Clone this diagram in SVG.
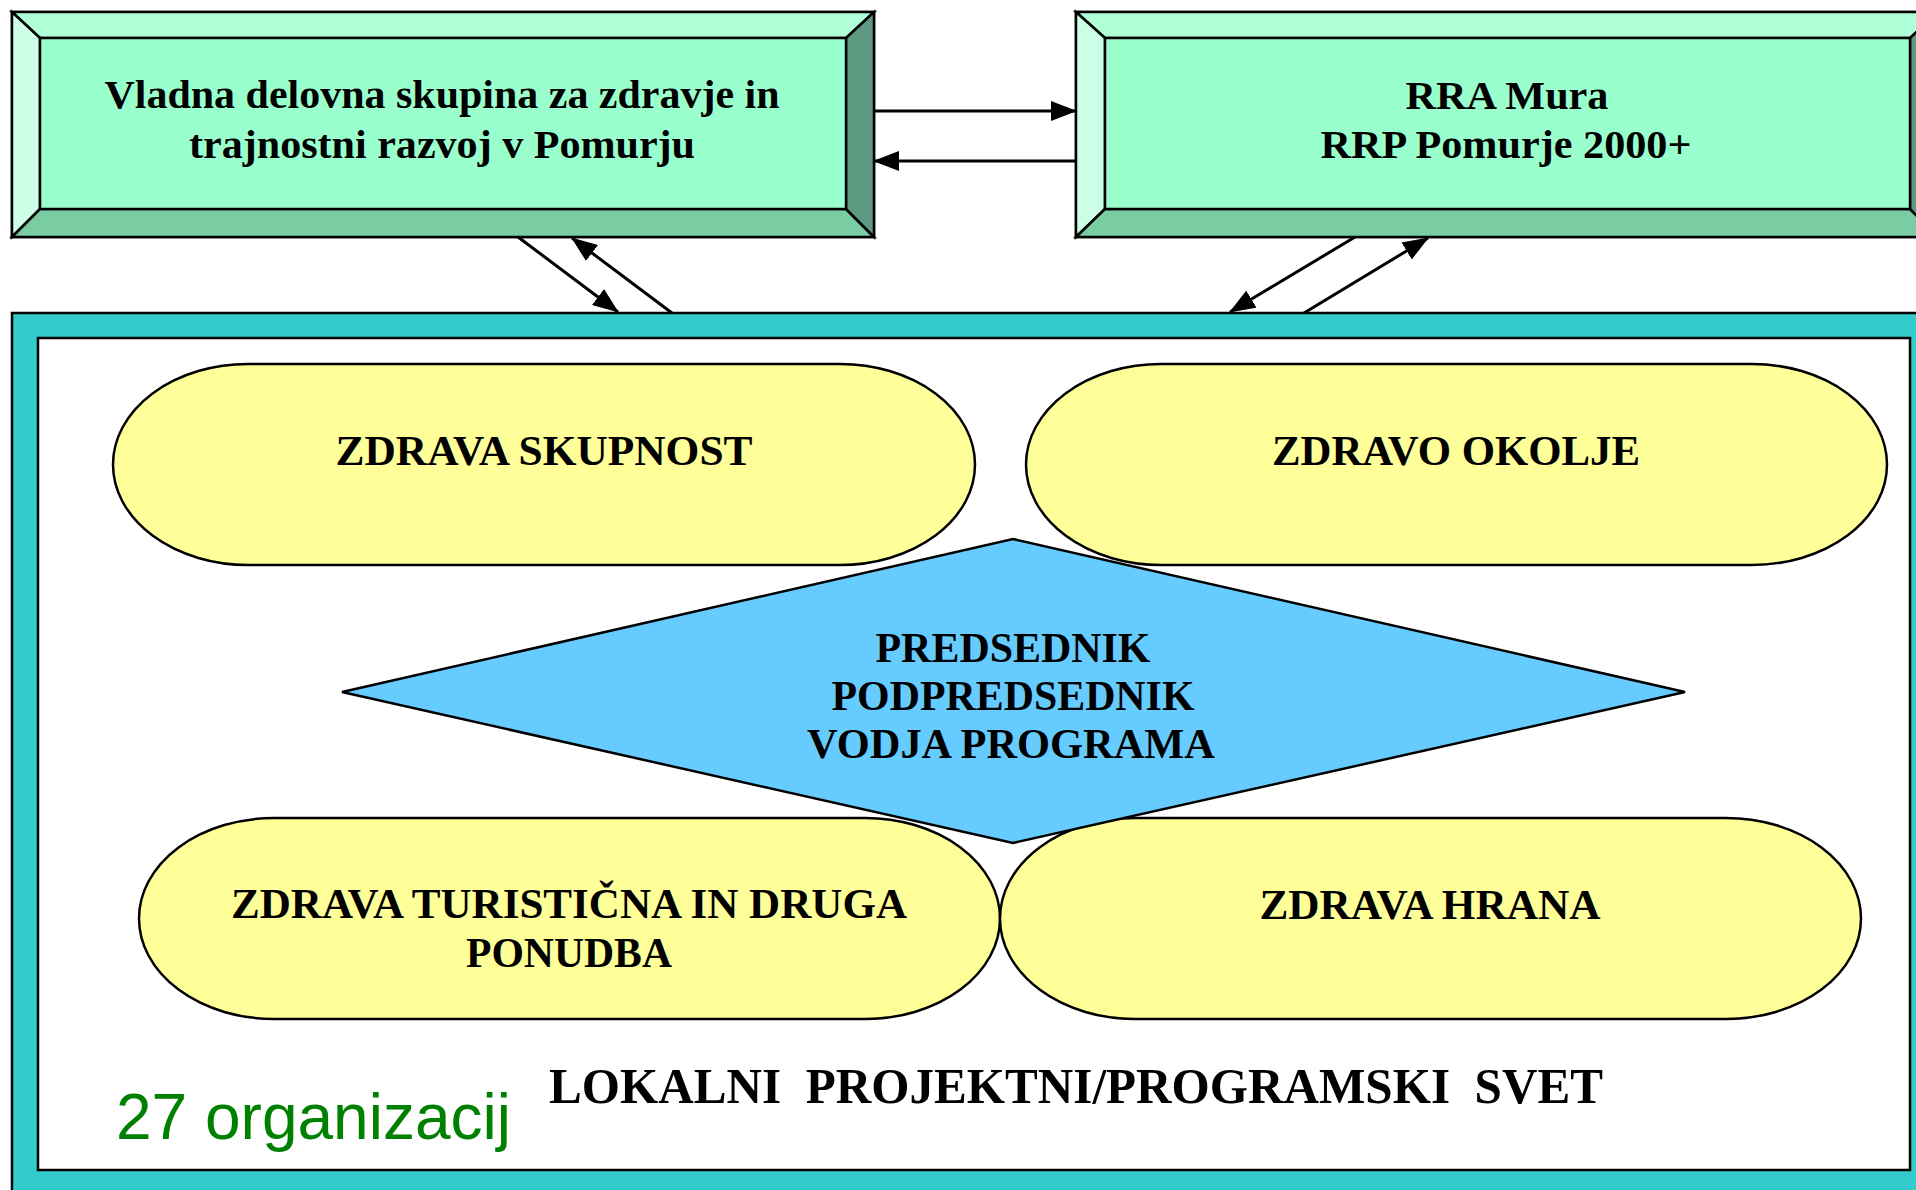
<svg xmlns="http://www.w3.org/2000/svg" width="1916" height="1190" viewBox="0 0 1916 1190">
<defs>
<marker id="ah" markerUnits="userSpaceOnUse" markerWidth="26" markerHeight="20" refX="25" refY="10" orient="auto">
<path d="M0,0 L26,10 L0,20 z" fill="#000"/>
</marker>
<style>
.st{stroke:#000;stroke-width:2.5;stroke-linejoin:miter}
.bc{fill:#99FFCC}
.bt{fill:#AFFFD7}
.bl{fill:#CCFFE6}
.bb{fill:#7ACCA3}
.br{fill:#5C9980}
.el{fill:#FFFF99;stroke:#000;stroke-width:2.5}
.t{font-family:"Liberation Serif","Times New Roman",serif;font-weight:bold;fill:#000;text-anchor:middle}
.c{stroke:#000;stroke-width:3;fill:none;marker-end:url(#ah)}
</style>
</defs>
<rect width="1916" height="1190" fill="#fff"/>

<g id="frame">
<rect x="12" y="313" width="1930" height="890" fill="#33CCCC" class="st"/>
<rect x="38" y="338" width="1872" height="832" fill="#fff" class="st"/>
<text x="116" y="1139" font-family="'Liberation Sans',Arial,sans-serif" font-size="64" fill="#008000">27 organizacij</text>
<text x="1076" y="1103" class="t" font-size="50" textLength="1054" lengthAdjust="spacingAndGlyphs" xml:space="preserve">LOKALNI  PROJEKTNI/PROGRAMSKI  SVET</text>
</g>

<g id="vladna">
<rect x="12" y="12" width="862" height="225" class="bc st"/>
<polygon points="12,12 874,12 846,38 40,38" class="bt st"/>
<polygon points="12,12 40,38 40,209 12,237" class="bl st"/>
<polygon points="12,237 40,209 846,209 874,237" class="bb st"/>
<polygon points="874,12 874,237 846,209 846,38" class="br st"/>
<rect x="40" y="38" width="806" height="171" class="bc st"/>
<text x="442" y="108" class="t" font-size="41" textLength="675" lengthAdjust="spacingAndGlyphs">Vladna delovna skupina za zdravje in</text>
<text x="442" y="158" class="t" font-size="41" textLength="506" lengthAdjust="spacingAndGlyphs">trajnostni razvoj v Pomurju</text>
</g>

<g id="rra">
<rect x="1076" y="12" width="862" height="225" class="bc st"/>
<polygon points="1076,12 1938,12 1910,38 1105,38" class="bt st"/>
<polygon points="1076,12 1105,38 1105,209 1076,237" class="bl st"/>
<polygon points="1076,237 1105,209 1910,209 1938,237" class="bb st"/>
<polygon points="1938,12 1938,237 1910,209 1910,38" class="br st"/>
<rect x="1105" y="38" width="805" height="171" class="bc st"/>
<text x="1507" y="109" class="t" font-size="41" textLength="203" lengthAdjust="spacingAndGlyphs">RRA Mura</text>
<text x="1506" y="158" class="t" font-size="41" textLength="371" lengthAdjust="spacingAndGlyphs">RRP Pomurje 2000+</text>
</g>

<g id="connectors">
<line x1="874" y1="111" x2="1076" y2="111" class="c"/>
<line x1="1076" y1="161" x2="874" y2="161" class="c"/>
<line x1="518" y1="237" x2="618" y2="312" class="c"/>
<line x1="672" y1="313" x2="572" y2="238" class="c"/>
<line x1="1355" y1="237" x2="1230" y2="312" class="c"/>
<line x1="1304" y1="313" x2="1428" y2="238" class="c"/>
</g>

<g id="zdrava-skupnost">
<rect x="113" y="364" width="862" height="201" rx="135" ry="100.5" class="el"/>
<text x="544" y="465" class="t" font-size="42" textLength="417" lengthAdjust="spacingAndGlyphs">ZDRAVA SKUPNOST</text>
</g>

<g id="zdravo-okolje">
<rect x="1026" y="364" width="861" height="201" rx="135" ry="100.5" class="el"/>
<text x="1456" y="465" class="t" font-size="42" textLength="368" lengthAdjust="spacingAndGlyphs">ZDRAVO OKOLJE</text>
</g>

<g id="zdrava-turisticna">
<rect x="139" y="818" width="861" height="201" rx="135" ry="100.5" class="el"/>
<text x="569" y="918" class="t" font-size="42" textLength="676" lengthAdjust="spacingAndGlyphs">ZDRAVA TURISTIČNA IN DRUGA</text>
<text x="569" y="967" class="t" font-size="42" textLength="206" lengthAdjust="spacingAndGlyphs">PONUDBA</text>
</g>

<g id="zdrava-hrana">
<rect x="1000" y="818" width="861" height="201" rx="135" ry="100.5" class="el"/>
<text x="1430" y="919" class="t" font-size="42" textLength="341" lengthAdjust="spacingAndGlyphs">ZDRAVA HRANA</text>
</g>

<g id="predsednik">
<polygon points="342,692 1013,539 1685,692 1013,843" fill="#66CCFF" class="st"/>
<text x="1013" y="662" class="t" font-size="42" textLength="275" lengthAdjust="spacingAndGlyphs">PREDSEDNIK</text>
<text x="1013" y="710" class="t" font-size="42" textLength="363" lengthAdjust="spacingAndGlyphs">PODPREDSEDNIK</text>
<text x="1011" y="758" class="t" font-size="42" textLength="408" lengthAdjust="spacingAndGlyphs">VODJA PROGRAMA</text>
</g>
</svg>
